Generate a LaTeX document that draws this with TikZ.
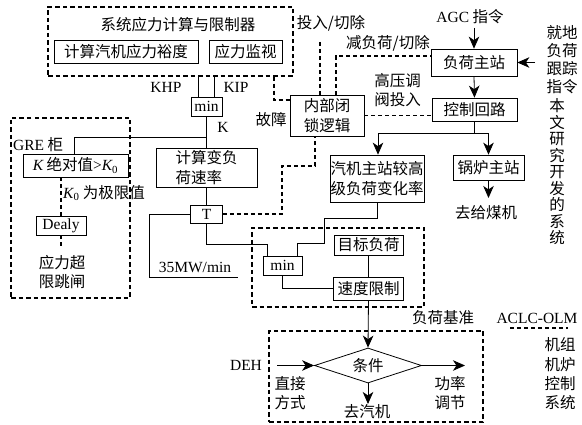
\documentclass[tikz,border=0pt]{standalone}
\usepackage{fontspec}
\setmainfont{Noto Sans CJK SC}
\newfontfamily\lat{Liberation Serif}
\usetikzlibrary{shapes.geometric,arrows.meta,calc}
\begin{document}
\begin{tikzpicture}[x=1pt,y=-1pt,
  every node/.style={font=\fontsize{15.5}{19.5}\selectfont, inner sep=0pt},
  lt/.style={font=\fontsize{15.5}{19.5}\selectfont\lat},
  bx/.style={draw, line width=0.7pt},
  dbox/.style={draw, line width=1.3pt, dash pattern=on 4.5pt off 3pt},
  ln/.style={line width=0.8pt},
  dl/.style={line width=1.1pt, dash pattern=on 4pt off 3pt},
  arr/.style={ln, -{Stealth[length=12pt,width=10.5pt,inset=3.5pt]}},
]
\useasboundingbox (0,0) rectangle (582,425);

% ---------- containers ----------
\node[dbox, minimum width=245pt, minimum height=69pt] (sys) at (170.5,41.5) {};
\node[dbox, minimum width=119pt, minimum height=180pt] (gre) at (70.5,208) {};
\node[dbox, minimum width=172pt, minimum height=79pt] (mid) at (338,267.5) {};
\node[dbox, minimum width=214pt, minimum height=91pt] (bot) at (376,376.5) {};

% ---------- boxes ----------
\node (systitle) at (178,25) {系统应力计算与限制器};
\node[bx, minimum width=144pt, minimum height=23pt] (calc) at (126,51.5) {计算汽机应力裕度};
\node[bx, minimum width=73pt, minimum height=23pt] (mon) at (245.5,51.5) {应力监视};
\node[bx, lt, minimum width=31pt, minimum height=19pt] (minA) at (206.5,106.5) {min};
\node[bx, minimum width=105pt, minimum height=23pt] (kb) at (75.5,165.5) {{\lat\itshape K} 绝对值{\lat >\itshape K\textsubscript{\upshape 0}}};
\node[bx, lt, minimum width=50pt, minimum height=19pt] (dealy) at (61,225.5) {Dealy};
\node[bx, minimum width=101pt, minimum height=39pt, align=left] (rate) at (206.5,167.5) {计算变负\\荷速率};
\node[bx, lt, minimum width=32pt, minimum height=18pt] (T) at (206.5,214) {T};
\node[bx, lt, minimum width=39pt, minimum height=19pt] (minB) at (282.5,265.5) {min};
\node[bx, minimum width=69pt, minimum height=20pt] (target) at (368.5,245) {目标负荷};
\node[bx, minimum width=70pt, minimum height=23pt] (speed) at (368.5,288.5) {速度限制};
\node[bx, minimum width=74pt, minimum height=41pt, align=center] (lock) at (327,115.5) {内部闭\\锁逻辑};
\node[bx, minimum width=86pt, minimum height=27pt] (load) at (474,62.5) {负荷主站};
\node[bx, minimum width=85pt, minimum height=23pt] (ctrl) at (474.5,109.5) {控制回路};
\node[bx, minimum width=94pt, minimum height=47pt, align=center] (turb) at (377,178.5) {汽机主站较高\\级负荷变化率};
\node[bx, minimum width=71pt, minimum height=25pt] (boiler) at (488.5,167.5) {锅炉主站};
\node[draw, ln, diamond, aspect=3, minimum width=107pt, minimum height=35pt] (cond) at (368,365.5) {条件};

% ---------- free texts ----------
\node[lt] (khp) at (166,87) {KHP};
\node[lt] (kip) at (236,87) {KIP};
\node[lt] (klab) at (223,127) {K};
\node[anchor=west] (grelab) at (13,145) {{\lat GRE} 柜};
\node[anchor=west] (k0lab) at (63,193) {{\lat\itshape K\textsubscript{\upshape 0}} 为极限值};
\node[align=center] (trip) at (62,272) {应力超\\限跳闸};
\node[lt] (mw) at (195,267) {35MW/min};
\node (fault) at (271,120) {故障};
\node (tqlab) at (331,23) {投入/切除};
\node (jflab) at (388,43) {减负荷/切除};
\node[align=center] (gylab) at (397.5,90) {高压调\\阀投入};
\node (agc) at (470,17) {{\lat AGC} 指令};
\node[align=center, font=\fontsize{15.5}{18}\selectfont] (local) at (562,60) {就地\\负荷\\跟踪\\指令};
\node[align=center, font=\fontsize{15.5}{16.5}\selectfont] (ours) at (557,172) {本\\文\\研\\究\\开\\发\\的\\系\\统};
\node (coal) at (486,213) {去给煤机};
\node (base) at (443,318) {负荷基准};
\node[lt] (aclc) at (537,318) {ACLC-OLM};
\node[align=center, font=\fontsize{15.5}{19.3}\selectfont] (olm) at (560,374) {机组\\机炉\\控制\\系统};
\node[lt] (deh) at (246,365) {DEH};
\node[align=center] (zj) at (290,393) {直接\\方式};
\node[align=center] (gl) at (450,393) {功率\\调节};
\node (qj) at (367,412) {去汽机};

% ---------- coordinates ----------
\coordinate (brK) at (74,137);
\coordinate (tl) at (149,214);
\coordinate (tb) at (149,277);
\coordinate (te) at (238,277);
\coordinate (dT1) at (282,214);
\coordinate (dT2) at (282,166);
\coordinate (dT3) at (315,166);
\coordinate (m1) at (267,256);
\coordinate (m2) at (297,256);
\coordinate (f) at (274,100);
\coordinate (tq) at (320,42);
\coordinate (jf) at (336,56);
\coordinate (agcs) at (474,28);
\coordinate (jd) at (535,62.5);
\coordinate (cb) at (474.5,133);
\coordinate (coalend) at (488.5,198);
\coordinate (dehs) at (277,365.5);
\coordinate (pw) at (465,365.5);
\coordinate (qjend) at (368,404);
\coordinate (u1) at (510,328);
\coordinate (u2) at (568,328);

% ---------- solid connectors ----------
\draw[ln] ([xshift=-8.5pt]minA.north) -- ([xshift=-8.5pt]minA.north |- sys.south);
\draw[ln] ([xshift=7.5pt]minA.north) -- ([xshift=7.5pt]minA.north |- sys.south);
\draw[ln] (minA.south) -- (rate.north);
\draw[ln] (minA.south |- brK) -- (brK) -- (brK |- kb.north);
\draw[ln] (rate.south) -- (T.north);
\draw[ln] (T.west) -- (tl) -- (tb) -- (te);
\draw[ln] (T.south) |- ($(m1)+(0,-12)$) -- (m1);
\draw[ln] (turb.south) -- ++(0,16) -| ($(m2)+(27,-13)$) -| (m2);
\draw[ln] (minB.south) |- (speed.west);
\draw[ln] (target.south) -- (speed.north);
\draw[arr] (speed.south) -- (cond.north);
\draw[arr] (dehs) -- (cond.west);
\draw[arr] (cond.east) -- (pw);
\draw[arr] (cond.south) -- (qjend);
\draw[arr] (agcs) -- (load.north);
\draw[arr] (jd) -- (load.east);
\draw[arr] (load.south) -- (ctrl.north);
\draw[ln] (ctrl.south) -- (cb);
\draw[arr] (cb) -| ([xshift=1pt]turb.north);
\draw[arr] (cb) -| (boiler.north);
\draw[arr] (boiler.south) -- (coalend);

% ---------- dashed connectors ----------
\draw[dl] (dealy.north |- kb.south) -- (dealy.north);
\draw[dl] (dealy.south) -- ++(0,13);
\draw[dl] (T.east) -- (dT1) -- (dT2) -- (dT3) -- (dT3 |- lock.south);
\draw[dl] (f |- sys.south) -- (f) -- (f -| lock.west);
\draw[dl] (tq) -- (tq |- lock.north);
\draw[dl] (jf |- lock.north) -- (jf) -- (jf -| load.west);
\draw[dl] (lock.east) -- (lock.east -| ctrl.west);
\draw[dl] (u1) -- (u2);
\end{tikzpicture}
\end{document}
